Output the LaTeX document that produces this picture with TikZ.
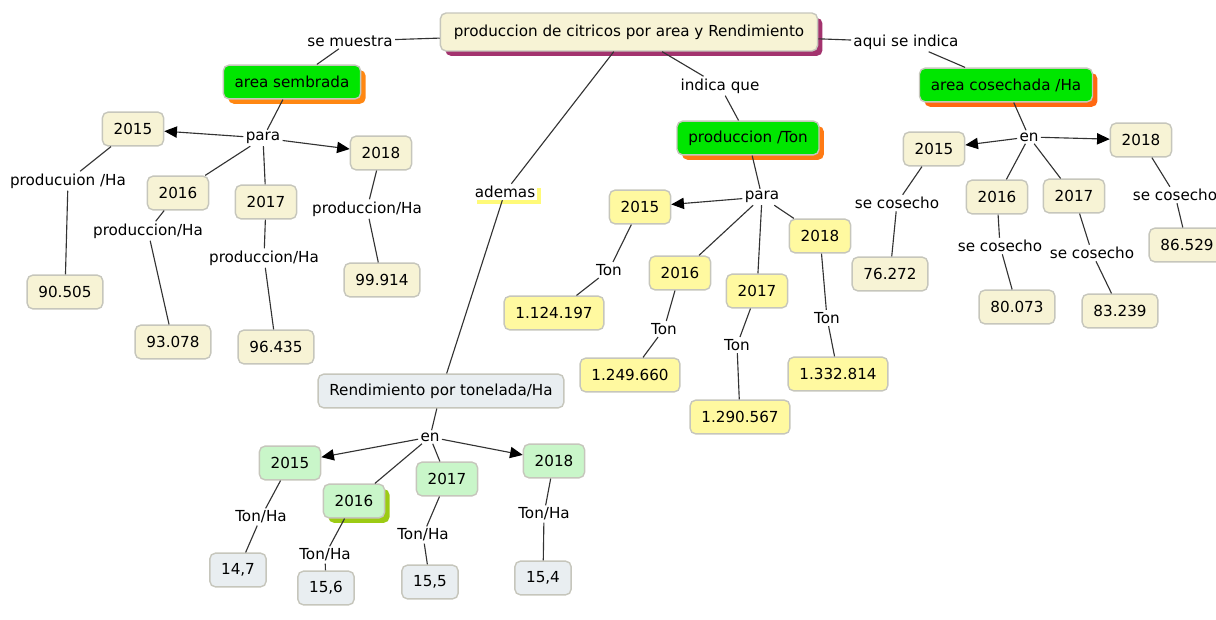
\documentclass[tikz,border=0pt]{standalone}
\usepackage{fontspec}
\setmainfont{DejaVu Sans}
\usetikzlibrary{arrows.meta,shadows}
\definecolor{crema}{HTML}{F7F3D5}
\definecolor{borde}{HTML}{C6C6BC}
\definecolor{verde}{HTML}{00E600}
\definecolor{naranja}{HTML}{FF7A14}
\definecolor{amarillo}{HTML}{FFF9A0}
\definecolor{resalte}{HTML}{FFFA78}
\definecolor{verdeclaro}{HTML}{C9F6C9}
\definecolor{gris}{HTML}{E9EEF1}
\definecolor{morado}{HTML}{A3336E}
\definecolor{oliva}{HTML}{9CCB14}
\begin{document}
\begin{tikzpicture}[x=0.025cm,y=-0.025cm]
    \tikzstyle{every node}=[font=\fontsize{10.8}{13}\selectfont]
    \tikzstyle{caja}=[draw=borde,line width=1pt,rounded corners=4pt,inner xsep=8pt,minimum height=24pt,fill=crema]
    \tikzstyle{sombra}=[general shadow={fill=#1,shadow xshift=3.5pt,shadow yshift=-3.5pt}]
    \tikzstyle{enlace}=[inner sep=1.5pt]
    \tikzstyle{linea}=[draw=black!80,line width=0.8pt]
    \tikzstyle{flecha}=[linea,-{Triangle[length=9pt,width=8pt,color=black]}]
    \useasboundingbox (0,0) rectangle (1216,619);

    \node[caja,inner xsep=9.5pt,minimum height=27pt,sombra=morado] (main) at (629,32) {produccion de citricos por area y Rendimiento};
    \node[enlace] (muestra) at (350,41) {se muestra};
    \node[enlace] (indica) at (720,86) {indica que};
    \node[enlace] (aqui) at (906,42) {aqui se indica};
    \node[enlace,fill=white,general shadow={fill=resalte,shadow xshift=3pt,shadow yshift=-3pt}] (ademas) at (505,192) {ademas};

    % area sembrada
    \node[caja,fill=verde,sombra=naranja!90!yellow] (sembrada) at (292,82) {area sembrada};
    \node[enlace] (para1) at (263,138) {para};
    \node[caja] (a15) at (133,129) {2015};
    \node[caja] (a16) at (178,193) {2016};
    \node[caja] (a17) at (266,202) {2017};
    \node[caja] (a18) at (381,153) {2018};
    \node[enlace] (la15) at (68,181) {producuion /Ha};
    \node[enlace] (la16) at (148,231) {produccion/Ha};
    \node[enlace] (la17) at (264,258) {produccion/Ha};
    \node[enlace] (la18) at (367,209) {produccion/Ha};
    \node[caja] (va15) at (65,292) {90.505};
    \node[caja] (va16) at (173,342) {93.078};
    \node[caja] (va17) at (276,347) {96.435};
    \node[caja] (va18) at (382,280) {99.914};

    % produccion /Ton
    \node[caja,fill=verde,sombra=naranja] (ton) at (748,138) {produccion /Ton};
    \node[enlace] (para2) at (762,197) {para};
    \node[caja,fill=amarillo] (b15) at (640,207) {2015};
    \node[caja,fill=amarillo] (b16) at (680,273) {2016};
    \node[caja,fill=amarillo] (b17) at (757,291) {2017};
    \node[caja,fill=amarillo] (b18) at (820,236) {2018};
    \node[enlace] (lb15) at (609,270) {Ton};
    \node[enlace] (lb16) at (664,329) {Ton};
    \node[enlace] (lb17) at (737,345) {Ton};
    \node[enlace] (lb18) at (827,318) {Ton};
    \node[caja,fill=amarillo] (vb15) at (554,313) {1.124.197};
    \node[caja,fill=amarillo] (vb16) at (630,375) {1.249.660};
    \node[caja,fill=amarillo] (vb17) at (740,417) {1.290.567};
    \node[caja,fill=amarillo] (vb18) at (838,374) {1.332.814};

    % area cosechada
    \node[caja,fill=verde,sombra=naranja!85!red] (cosechada) at (1006,85) {area cosechada /Ha};
    \node[enlace] (en1) at (1029,137) {en};
    \node[caja] (c15) at (934,149) {2015};
    \node[caja] (c16) at (997,197) {2016};
    \node[caja] (c17) at (1074,196) {2017};
    \node[caja] (c18) at (1141,140) {2018};
    \node[enlace] (lc15) at (897,203) {se cosecho};
    \node[enlace] (lc16) at (1000,246) {se cosecho};
    \node[enlace] (lc17) at (1092,253) {se cosecho};
    \node[enlace] (lc18) at (1175,195) {se cosecho};
    \node[caja] (vc15) at (890,274) {76.272};
    \node[caja] (vc16) at (1017,307) {80.073};
    \node[caja] (vc17) at (1120,311) {83.239};
    \node[caja] (vc18) at (1187,245) {86.529};

    % rendimiento
    \node[caja,fill=gris] (rend) at (441,391) {Rendimiento por tonelada/Ha};
    \node[enlace] (en2) at (430,437) {en};
    \node[caja,fill=verdeclaro] (d15) at (290,463) {2015};
    \node[caja,fill=verdeclaro,sombra=oliva] (d16) at (354,501) {2016};
    \node[caja,fill=verdeclaro] (d17) at (447,479) {2017};
    \node[caja,fill=verdeclaro] (d18) at (554,461) {2018};
    \node[enlace] (ld15) at (261,517) {Ton/Ha};
    \node[enlace] (ld16) at (325,555) {Ton/Ha};
    \node[enlace] (ld17) at (423,535) {Ton/Ha};
    \node[enlace] (ld18) at (544,514) {Ton/Ha};
    \node[caja,fill=gris] (vd15) at (238,570) {14,7};
    \node[caja,fill=gris] (vd16) at (326,588) {15,6};
    \node[caja,fill=gris] (vd17) at (430,582) {15,5};
    \node[caja,fill=gris] (vd18) at (543,578) {15,4};

    \draw[linea] (main) -- (muestra) -- (sembrada) -- (para1);
    \draw[linea] (main) -- (indica) -- (ton) -- (para2);
    \draw[linea] (main) -- (aqui) -- (cosechada) -- (en1);
    \draw[linea] (main) -- (ademas) -- (rend) -- (en2);

    \draw[flecha] (para1) -- (a15);
    \draw[flecha] (para1) -- (a18);
    \draw[linea] (para1) -- (a16);
    \draw[linea] (para1) -- (a17);
    \draw[linea] (a15) -- (la15) -- (va15);
    \draw[linea] (a16) -- (la16) -- (va16);
    \draw[linea] (a17) -- (la17) -- (va17);
    \draw[linea] (a18) -- (la18) -- (va18);

    \draw[flecha] (para2) -- (b15);
    \draw[linea] (para2) -- (b16);
    \draw[linea] (para2) -- (b17);
    \draw[linea] (para2) -- (b18);
    \draw[linea] (b15) -- (lb15) -- (vb15);
    \draw[linea] (b16) -- (lb16) -- (vb16);
    \draw[linea] (b17) -- (lb17) -- (vb17);
    \draw[linea] (b18) -- (lb18) -- (vb18);

    \draw[flecha] (en1) -- (c15);
    \draw[flecha] (en1) -- (c18);
    \draw[linea] (en1) -- (c16);
    \draw[linea] (en1) -- (c17);
    \draw[linea] (c15) -- (lc15) -- (vc15);
    \draw[linea] (c16) -- (lc16) -- (vc16);
    \draw[linea] (c17) -- (lc17) -- (vc17);
    \draw[linea] (c18) -- (lc18) -- (vc18);

    \draw[flecha] (en2) -- (d15);
    \draw[flecha] (en2) -- (d18);
    \draw[linea] (en2) -- (d16);
    \draw[linea] (en2) -- (d17);
    \draw[linea] (d15) -- (ld15) -- (vd15);
    \draw[linea] (d16) -- (ld16) -- (vd16);
    \draw[linea] (d17) -- (ld17) -- (vd17);
    \draw[linea] (d18) -- (ld18) -- (vd18);
\end{tikzpicture}
\end{document}
